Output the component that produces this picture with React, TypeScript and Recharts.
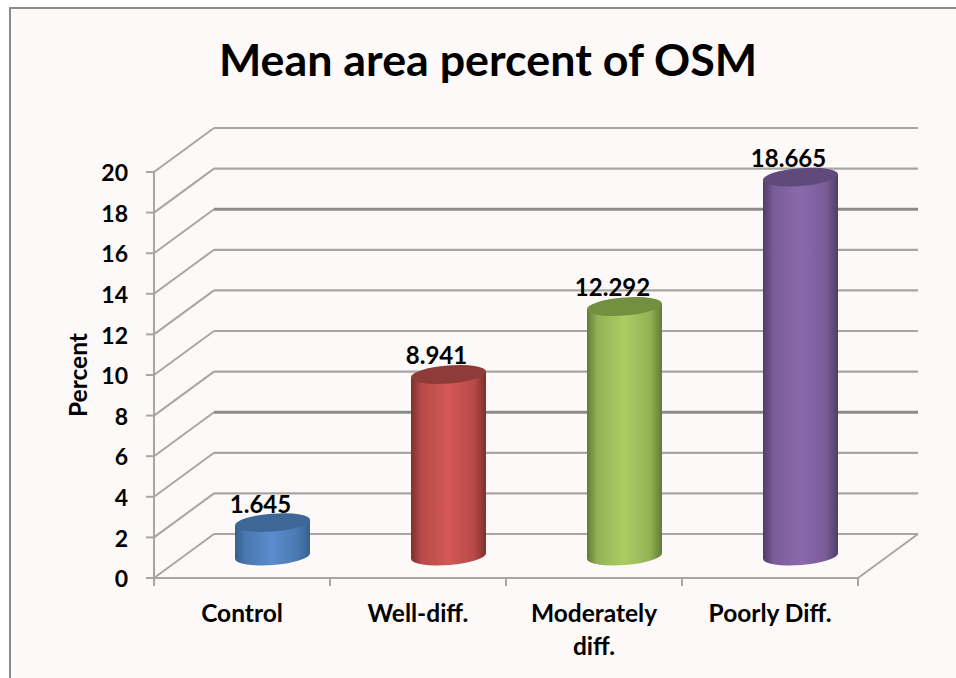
import React from 'react';
import { BarChart, Bar, XAxis, YAxis, CartesianGrid, LabelList } from 'recharts';

const categories = ['Control', 'Well-diff.', 'Moderately diff.', 'Poorly Diff.'];
const categoryLines = [['Control'], ['Well-diff.'], ['Moderately', 'diff.'], ['Poorly Diff.']];
const values = [1.645, 8.941, 12.292, 18.665];
const yTicks = [0, 2, 4, 6, 8, 10, 12, 14, 16, 18, 20];
const heavyGridValues = [6, 16];

const centerColors = ['#5A8DCE', '#D25856', '#ABCD62', '#8C69AC'];
const midColors = ['#4A78B0', '#B84A48', '#93B255', '#785D98'];
const edgeColors = ['#34618F', '#7F302E', '#627B34', '#503C68'];
const topColors = ['#3D6796', '#8F3B39', '#738F40', '#5F4A7B'];

const data = categories.map((name, i) => ({ name, value: values[i] }));

// 3D depth of the floor and of the bars
const DEPTH_X = 60;
const DEPTH_Y = 44;
const FONT = 'Lato, "Open Sans", sans-serif';
const GRID = '#A8A6A4';

const gridLine = (props: any) => {
  const { x1, x2, y1, index } = props;
  const heavy = heavyGridValues.includes(yTicks[index]);
  const bx = x1 + DEPTH_X;
  const by = y1 - DEPTH_Y;
  return (
    <g key={index}>
      <line x1={x1} y1={y1} x2={bx} y2={by} stroke={GRID} strokeWidth={2} />
      <line x1={bx} y1={by} x2={x2 + DEPTH_X} y2={by} stroke={heavy ? '#8E8C8A' : GRID} strokeWidth={heavy ? 3 : 2.2} />
      {yTicks[index] === 0 && <line x1={x2} y1={y1} x2={x2 + DEPTH_X} y2={by} stroke={GRID} strokeWidth={2} />}
    </g>
  );
};

const Cylinder = (props: any) => {
  const { x, y, width, height, index } = props;
  const rx = width / 2;
  const cx = x + rx + DEPTH_X / 2;
  const top = y - 22;
  const base = y + height - 22;
  const tilt = 3;
  const id = `cyl-${index}`;
  return (
    <g>
      <defs>
        <linearGradient id={id} x1="0" y1="0" x2="1" y2="0">
          <stop offset="0%" stopColor={edgeColors[index]} />
          <stop offset="14%" stopColor={midColors[index]} />
          <stop offset="50%" stopColor={centerColors[index]} />
          <stop offset="84%" stopColor={midColors[index]} />
          <stop offset="100%" stopColor={edgeColors[index]} />
        </linearGradient>
      </defs>
      <path
        d={`M${cx - rx},${top + tilt} L${cx - rx},${base + tilt} A${rx} 9 -4.5 0 0 ${cx + rx},${base - tilt} L${cx + rx},${top - tilt} Z`}
        fill={`url(#${id})`}
      />
      <ellipse cx={cx} cy={top} rx={rx + 0.2} ry={9} fill={topColors[index]} transform={`rotate(-4.5 ${cx} ${top})`} />
    </g>
  );
};

const ValueLabel = (props: any) => {
  const { x, y, width, value } = props;
  return (
    <text x={x + width / 2 + 18} y={y - 32} textAnchor="middle" fontFamily={FONT} fontWeight={700} fontSize={24} fill="#000">
      {value.toFixed(3)}
    </text>
  );
};

const CategoryTick = (props: any) => {
  const { x, width, visibleTicksCount, index } = props;
  const band = width / visibleTicksCount;
  const left = x - band / 2;
  return (
    <g>
      <line x1={left} y1={578} x2={left} y2={586} stroke={GRID} strokeWidth={2} />
      {index === visibleTicksCount - 1 && <line x1={left + band} y1={578} x2={left + band} y2={586} stroke={GRID} strokeWidth={2} />}
      <text textAnchor="middle" fontFamily={FONT} fontWeight={700} fontSize={24.5} fill="#000">
        {categoryLines[index].map((line, i) => (
          <tspan key={line} x={x} y={622 + i * 33}>{line}</tspan>
        ))}
      </text>
    </g>
  );
};

export default function App() {
  return (
    <div style={{ position: 'absolute', left: 0, top: 0, width: 956, height: 678, background: '#fff', overflow: 'hidden' }}>
      <div style={{ position: 'absolute', left: 9, top: 7, width: 947, height: 671, background: '#FCF9F8', borderLeft: '2px solid #8A8A8A', borderTop: '2px solid #8A8A8A' }} />
      <div style={{ position: 'absolute', left: 0, top: 31, width: 976, textAlign: 'center', fontFamily: FONT, fontWeight: 700, fontSize: 44.8, lineHeight: '56px', color: '#000' }}>
        Mean area percent of OSM
      </div>
      <div style={{ position: 'absolute', left: 0, top: 0 }}>
        <BarChart width={956} height={678} data={data} margin={{ top: 172, right: 98, bottom: 0, left: 0 }}>
          <CartesianGrid vertical={false} horizontal={gridLine} />
          <XAxis
            dataKey="name"
            height={100}
            interval={0}
            axisLine={{ stroke: GRID, strokeWidth: 2 }}
            tickLine={false}
            tick={<CategoryTick />}
          />
          <YAxis
            width={154}
            domain={[0, 20]}
            ticks={yTicks}
            interval={0}
            tickSize={8}
            tickMargin={18}
            axisLine={{ stroke: GRID, strokeWidth: 2 }}
            tickLine={{ stroke: GRID, strokeWidth: 2 }}
            tick={{ fontFamily: FONT, fontWeight: 700, fontSize: 23, fill: '#000', dy: 1 }}
            label={{ value: 'Percent', angle: -90, position: 'insideLeft', dx: 73, dy: 42, fontFamily: FONT, fontWeight: 700, fontSize: 24.5, fill: '#000' }}
          />
          <Bar dataKey="value" barSize={75} shape={<Cylinder />} isAnimationActive={false}>
            <LabelList dataKey="value" content={<ValueLabel />} />
          </Bar>
        </BarChart>
      </div>
    </div>
  );
}
